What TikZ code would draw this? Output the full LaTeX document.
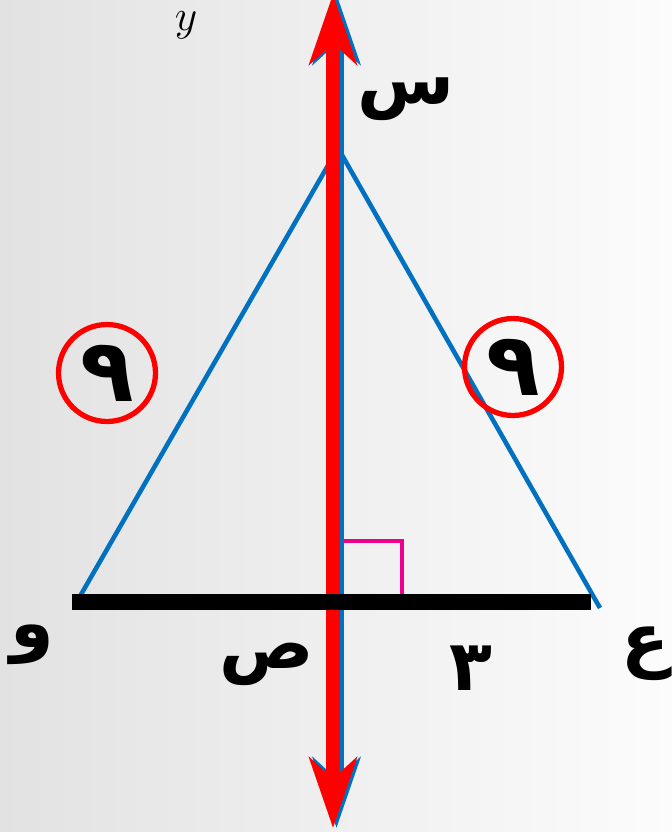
\documentclass[tikz,border=0pt]{standalone}
\usepackage{fontspec}
\usetikzlibrary{arrows.meta}
\TeXXeTstate=1
\newfontfamily\arabicfont[Script=Arabic]{DejaVu Sans}
\definecolor{AxisRed}  {RGB}{255,0,0}
\definecolor{SideBlue} {RGB}{0,112,192}
\definecolor{RightPink}{RGB}{236,0,140}
\definecolor{BgLeft}   {RGB}{226,226,226}
\definecolor{BgRight}  {RGB}{252,252,252}
\tikzset{
  % sides of the isosceles triangle
  side/.style={draw=SideBlue, line width=2.6pt, line join=round},
  % thick black base
  base/.style={draw=black, line width=9pt},
  % symmetry axis with big arrow heads
  axis/.style={line width=8.5pt,
    {Stealth[length=40pt, width=27pt, inset=12pt]}-{Stealth[length=40pt, width=27pt, inset=12pt]}},
  % circled side lengths
  ring/.style={circle, draw=AxisRed, line width=3pt, minimum size=1.94cm, inner sep=0pt,
    font=\arabicfont\bfseries\fontsize{50}{54}\selectfont},
  lbl/.style={font=\arabicfont\bfseries\fontsize{40}{44}\selectfont, inner sep=0pt}
}
\begin{document}
\begin{tikzpicture}[x=0.02cm, y=-0.02cm]

  %% ── Background ──────────────────────────────────────────────────────────
  \useasboundingbox (0,0) rectangle (672,832);
  \shade[left color=BgLeft, right color=BgRight] (0,0) rectangle (672,832);
  \node[font=\fontsize{24}{28}\selectfont, anchor=base, inner sep=0pt] (frag) at (186,30) {$y$};

  %% ── Points ──────────────────────────────────────────────────────────────
  \coordinate (S) at (338,148);
  \coordinate (W) at (79,598);
  \coordinate (E) at (600,608);
  \coordinate (B1) at (72,602);
  \coordinate (B2) at (591,602);
  \coordinate (Ptop) at (336.5,-6);
  \coordinate (Pbot) at (336.5,828);
  \coordinate (Rtop) at (333,-6);
  \coordinate (Rbot) at (333,828);

  %% ── Triangle ────────────────────────────────────────────────────────────
  \draw[side] (W) -- (S) -- (E);
  \draw[axis, SideBlue] (Ptop) -- (Pbot);
  \draw[axis, AxisRed] (Rtop) -- (Rbot);
  \draw[RightPink, line width=2.6pt] (343,541) -- (402,541) -- (402,595);
  \draw[base] (B1) -- (B2);

  %% ── Labels ──────────────────────────────────────────────────────────────
  \node[lbl] (sin)  at (406,99)  {\beginR س\endR};
  \node[lbl] (waw)  at (32,645)  {\beginR و\endR};
  \node[lbl] (sad)  at (267,664) {\beginR ص\endR};
  \node[lbl] (three) at (471,668) {\beginR ٣\endR};
  \node[lbl] (ain)  at (645,654) {\beginR ع\endR};

  \node[ring] (c1) at (107,373) {٩};
  \node[ring] (c2) at (513,367) {٩};

\end{tikzpicture}
\end{document}
